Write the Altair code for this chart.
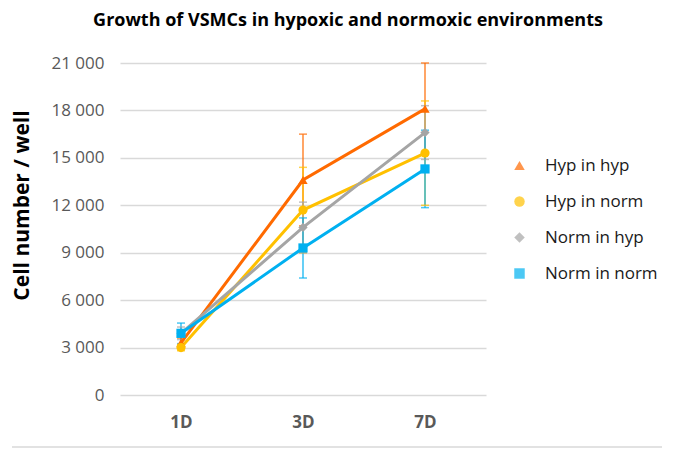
import altair as alt
import pandas as pd

days = ["1D", "3D", "7D"]
series = ["Hyp in hyp", "Hyp in norm", "Norm in hyp", "Norm in norm"]
colors = ["#FF6A00", "#FFC000", "#A5A5A5", "#00B0F0"]
shapes = ["triangle-up", "circle", "diamond", "square"]

hyp_in_hyp = [3300, 13600, 18100]
hyp_in_hyp_err = [300, 2900, 2900]
hyp_in_norm = [3000, 11700, 15300]
hyp_in_norm_err = [200, 2700, 3300]
norm_in_hyp = [3900, 10600, 16600]
norm_in_hyp_err = [400, 1600, 1700]
norm_in_norm = [3900, 9300, 14300]
norm_in_norm_err = [650, 1900, 2450]

vals = [hyp_in_hyp, hyp_in_norm, norm_in_hyp, norm_in_norm]
errs = [hyp_in_hyp_err, hyp_in_norm_err, norm_in_hyp_err, norm_in_norm_err]

rows = []
for s, v, e in zip(series, vals, errs):
    for d, vv, ee in zip(days, v, e):
        rows.append({"day": d, "series": s, "value": vv, "lo": vv - ee, "hi": vv + ee})
df = pd.DataFrame(rows)

FONT = "Open Sans"

x = alt.X("day:N", sort=days, title=None,
          scale=alt.Scale(type="point", padding=0.5),
          axis=alt.Axis(labelAngle=0, labelFontWeight="bold", labelColor="#595959",
                        labelFontSize=17, labelPadding=19, ticks=False, domain=False,
                        grid=False, labelFont=FONT))
y_scale = alt.Scale(domain=[0, 21000], nice=False)
color = alt.Color("series:N", sort=series,
                  scale=alt.Scale(domain=series, range=colors),
                  legend=alt.Legend(title=None, orient="none", legendX=391, legendY=94,
                                    labelFontSize=17, labelFont=FONT, labelColor="#1A1A1A",
                                    rowPadding=18, symbolSize=110, labelOffset=17,
                                    symbolStrokeWidth=0))
shape = alt.Shape("series:N", sort=series,
                  scale=alt.Scale(domain=series, range=shapes), legend=None)

base = alt.Chart(df)

lines = base.mark_line(strokeWidth=3).encode(
    x=x,
    y=alt.Y("value:Q", scale=y_scale, title="Cell number / well",
            axis=alt.Axis(values=list(range(0, 21001, 3000)), grid=True,
                          gridColor="#D9D9D9", gridWidth=1.5, ticks=False, domain=False,
                          labelExpr="replace(format(datum.value, ',d'), ',', ' ')",
                          labelFontSize=17, labelColor="#595959", labelPadding=16,
                          labelFont=FONT, titleFont=FONT, titleFontSize=21,
                          titleFontWeight="bold", titleColor="#000000",
                          titleX=-88, titleY=142, titleAngle=270, titleAlign="center")),
    color=color,
    detail="series:N",
)

rules = base.mark_rule(strokeWidth=1.2).encode(
    x=x, y=alt.Y("lo:Q", scale=y_scale), y2="hi:Q", color=color)
cap_lo = base.mark_tick(thickness=1.5, size=8).encode(
    x=x, y=alt.Y("lo:Q", scale=y_scale), color=color)
cap_hi = base.mark_tick(thickness=1.5, size=8).encode(
    x=x, y=alt.Y("hi:Q", scale=y_scale), color=color)

points = base.mark_point(filled=True, size=85, opacity=1).encode(
    x=x, y=alt.Y("value:Q", scale=y_scale), color=color, shape=shape)

frame = alt.Chart(pd.DataFrame({"k": [0]})).mark_rule(color="#D9D9D9", strokeWidth=1.5).encode(
    x=alt.value(-108), x2=alt.value(542), y=alt.value(384))

chart = alt.layer(frame, rules, cap_lo, cap_hi, lines, points).properties(
    width=366, height=332,
    title=alt.TitleParams("Growth of VSMCs in hypoxic and normoxic environments",
                          fontSize=18, fontWeight="bold", font=FONT, color="#000000",
                          anchor="middle", dx=45, offset=24),
    autosize=alt.AutoSizeParams(type="none"),
    padding={"left": 112, "top": 55, "right": 178, "bottom": 55},
).configure_view(stroke=None)

chart.save("out.html", embed_options={"renderer": "svg", "actions": False})
